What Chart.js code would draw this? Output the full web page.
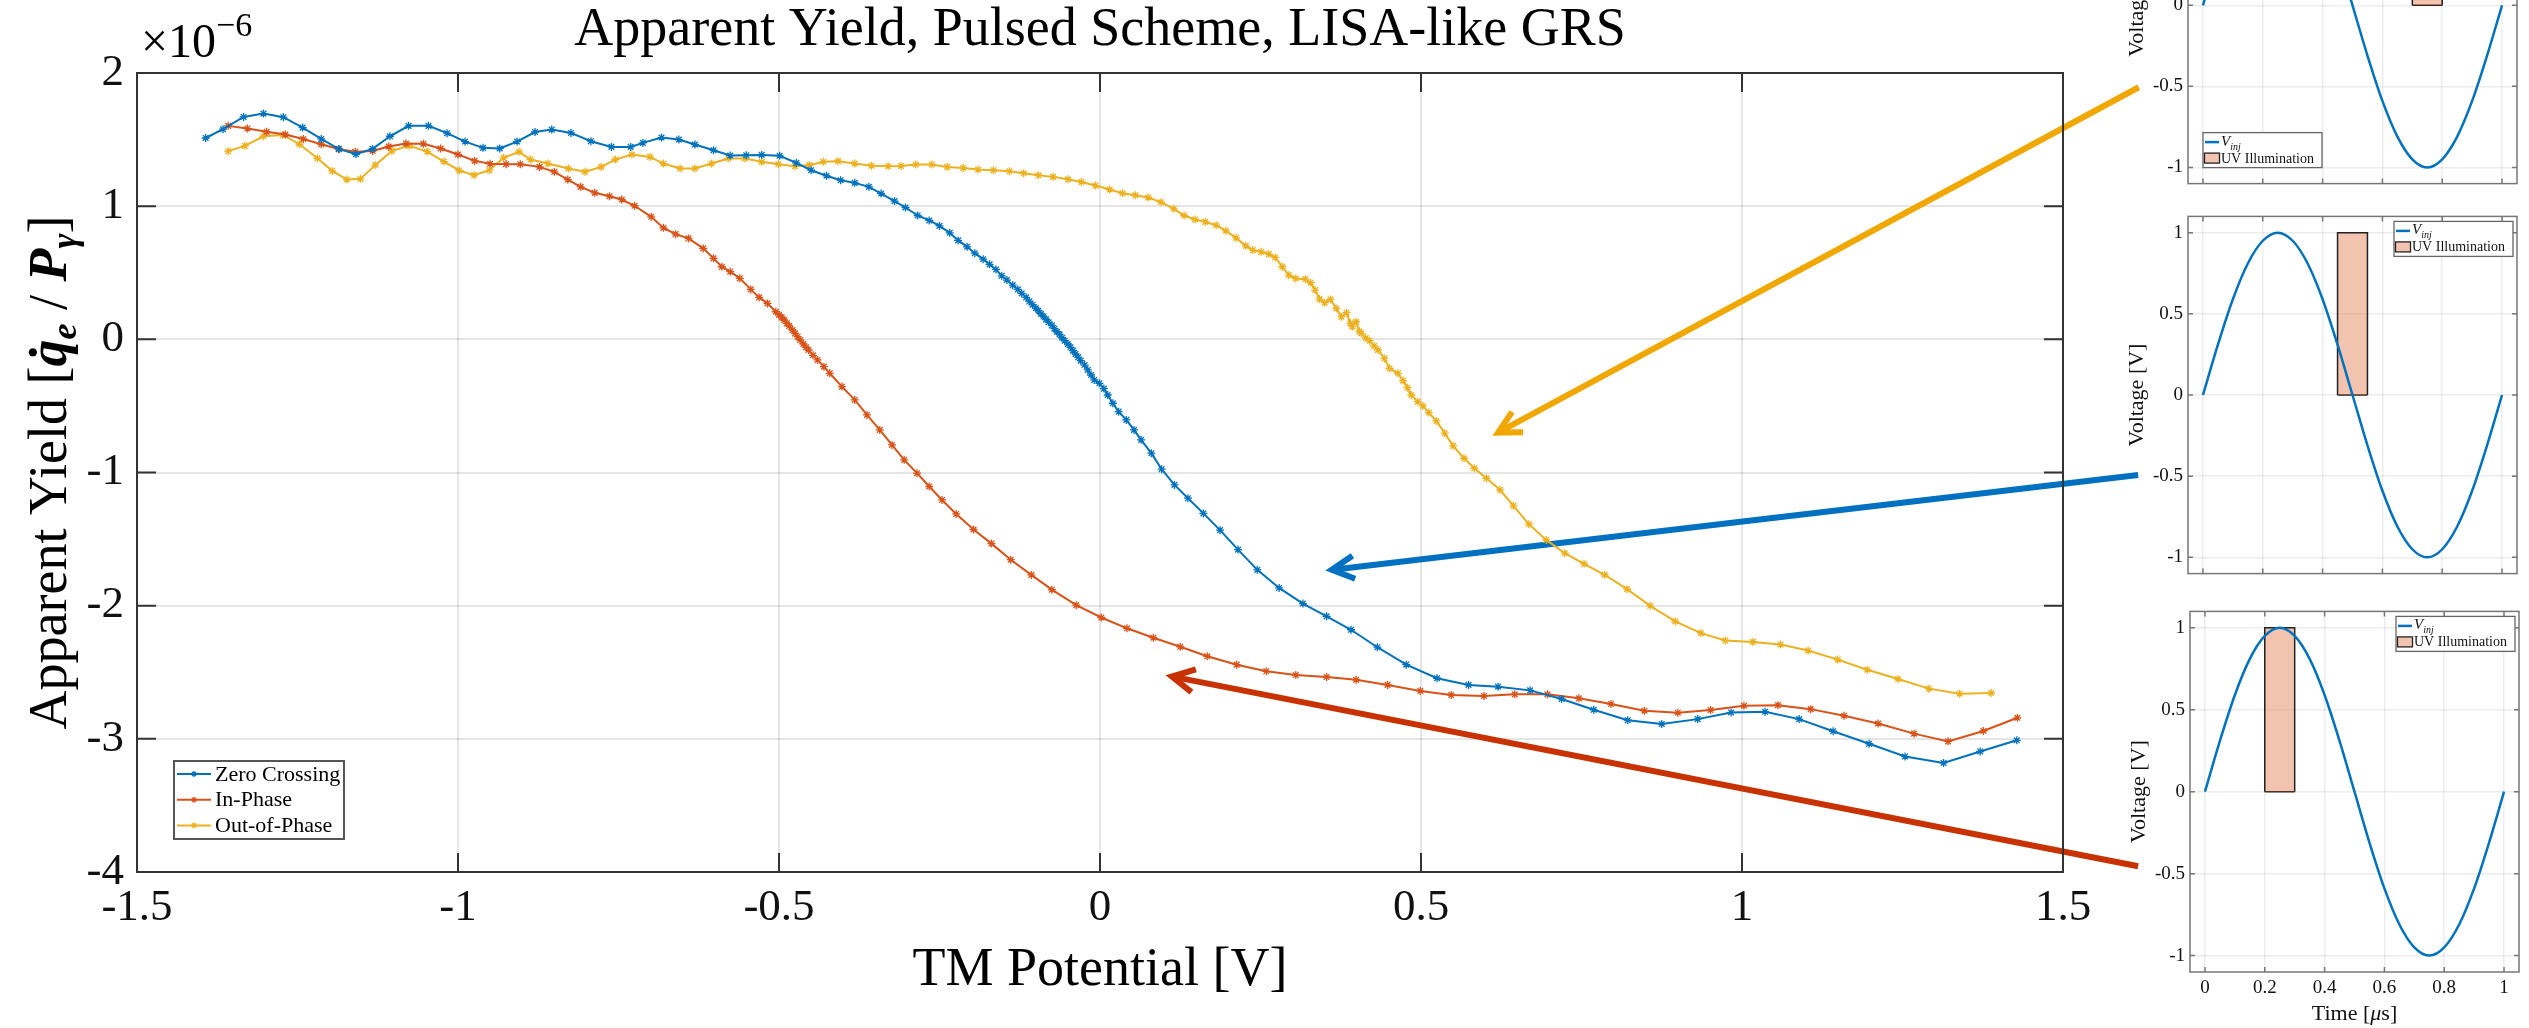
<!DOCTYPE html>
<html>
<head>
<meta charset="utf-8">
<title>Apparent Yield, Pulsed Scheme, LISA-like GRS</title>
<script src="https://cdn.jsdelivr.net/npm/chart.js@4.4.1/dist/chart.umd.min.js"></script>
<style>
  html, body { margin: 0; padding: 0; background: #fff; overflow: hidden; }
  body { width: 2529px; height: 1028px; position: relative; }
  canvas { position: absolute; }
  #main { left: 0; top: 0; }
  #inset1 { left: 2100px; top: -200px; }
  #inset2 { left: 2100px; top: 200px; }
  #inset3 { left: 2100px; top: 595px; }
</style>
</head>
<body>
<canvas id="main" width="2529" height="1028"></canvas>
<canvas id="inset1" width="429" height="400"></canvas>
<canvas id="inset2" width="429" height="390"></canvas>
<canvas id="inset3" width="429" height="433"></canvas>
<script>
// TM potential [V] vs apparent yield [x1e-6] for the three pulse timings
const zeroCrossingV = [
  -1.393, -1.366, -1.334, -1.303, -1.272, -1.242, -1.213, -1.186, -1.159, -1.133,
  -1.106, -1.077, -1.046, -1.017, -0.989, -0.961, -0.935, -0.908, -0.880, -0.854,
  -0.824, -0.793, -0.761, -0.731, -0.712, -0.683, -0.656, -0.631, -0.602, -0.576,
  -0.551, -0.527, -0.499, -0.473, -0.450, -0.426, -0.404, -0.382, -0.360, -0.341,
  -0.320, -0.303, -0.284, -0.266, -0.250, -0.234, -0.221, -0.207, -0.195, -0.182,
  -0.172, -0.162, -0.153, -0.145, -0.136, -0.128, -0.122, -0.115, -0.110, -0.105,
  -0.100, -0.096, -0.092, -0.088, -0.084, -0.080, -0.075, -0.071, -0.067, -0.063,
  -0.059, -0.055, -0.050, -0.046, -0.042, -0.038, -0.034, -0.030, -0.024, -0.019,
  -0.014, -0.009, -0.001, 0.006, 0.012, 0.020, 0.029, 0.041, 0.053, 0.064,
  0.080, 0.096, 0.116, 0.137, 0.161, 0.187, 0.215, 0.245, 0.279, 0.316,
  0.353, 0.391, 0.432, 0.477, 0.525, 0.574, 0.620, 0.670, 0.719, 0.769,
  0.822, 0.875, 0.931, 0.983, 1.036, 1.089, 1.142, 1.198, 1.254, 1.314,
  1.371, 1.428
];
const zeroCrossingYield = [
  1.512, 1.578, 1.670, 1.695, 1.668, 1.590, 1.505, 1.430, 1.390, 1.430,
  1.525, 1.603, 1.603, 1.548, 1.485, 1.438, 1.433, 1.485, 1.557, 1.575,
  1.550, 1.488, 1.445, 1.445, 1.475, 1.515, 1.500, 1.463, 1.420, 1.380,
  1.383, 1.385, 1.378, 1.325, 1.270, 1.228, 1.195, 1.175, 1.145, 1.095,
  1.038, 0.990, 0.930, 0.893, 0.852, 0.800, 0.743, 0.695, 0.647, 0.602,
  0.563, 0.525, 0.477, 0.445, 0.407, 0.375, 0.345, 0.315, 0.285, 0.260,
  0.235, 0.215, 0.192, 0.172, 0.150, 0.128, 0.105, 0.080, 0.057, 0.037,
  0.012, -0.010, -0.035, -0.060, -0.085, -0.110, -0.135, -0.160, -0.193, -0.230,
  -0.268, -0.305, -0.330, -0.370, -0.418, -0.480, -0.543, -0.605, -0.680, -0.755,
  -0.855, -0.975, -1.093, -1.193, -1.307, -1.433, -1.579, -1.731, -1.867, -1.984,
  -2.080, -2.181, -2.312, -2.443, -2.545, -2.595, -2.608, -2.636, -2.701, -2.782,
  -2.860, -2.888, -2.852, -2.802, -2.797, -2.852, -2.943, -3.037, -3.133, -3.181,
  -3.095, -3.011
];

const inPhaseV = [
  -1.358, -1.328, -1.298, -1.269, -1.241, -1.213, -1.185, -1.160, -1.133, -1.108,
  -1.081, -1.054, -1.027, -1.000, -0.974, -0.950, -0.925, -0.903, -0.873, -0.850,
  -0.829, -0.809, -0.787, -0.764, -0.745, -0.725, -0.699, -0.680, -0.661, -0.641,
  -0.618, -0.602, -0.589, -0.576, -0.561, -0.544, -0.531, -0.518, -0.505, -0.500,
  -0.496, -0.492, -0.488, -0.484, -0.479, -0.475, -0.471, -0.467, -0.462, -0.458,
  -0.454, -0.447, -0.440, -0.430, -0.421, -0.402, -0.382, -0.363, -0.343, -0.324,
  -0.305, -0.285, -0.266, -0.246, -0.224, -0.197, -0.169, -0.139, -0.107, -0.075,
  -0.037, 0.002, 0.042, 0.083, 0.125, 0.167, 0.213, 0.259, 0.305, 0.353,
  0.399, 0.448, 0.499, 0.547, 0.598, 0.646, 0.697, 0.746, 0.796, 0.848,
  0.900, 0.951, 1.003, 1.056, 1.107, 1.159, 1.212, 1.268, 1.321, 1.376,
  1.429
];
const inPhaseYield = [
  1.603, 1.583, 1.558, 1.538, 1.505, 1.465, 1.428, 1.408, 1.415, 1.448,
  1.470, 1.468, 1.433, 1.388, 1.340, 1.318, 1.315, 1.315, 1.295, 1.258,
  1.200, 1.145, 1.100, 1.075, 1.050, 1.003, 0.920, 0.837, 0.790, 0.758,
  0.683, 0.608, 0.545, 0.508, 0.458, 0.375, 0.315, 0.270, 0.207, 0.185,
  0.165, 0.145, 0.120, 0.100, 0.070, 0.045, 0.020, -0.005, -0.035, -0.060,
  -0.080, -0.120, -0.155, -0.205, -0.255, -0.355, -0.455, -0.568, -0.680, -0.793,
  -0.905, -1.005, -1.105, -1.206, -1.311, -1.428, -1.534, -1.655, -1.769, -1.880,
  -1.996, -2.089, -2.170, -2.241, -2.309, -2.380, -2.443, -2.493, -2.521, -2.536,
  -2.557, -2.595, -2.640, -2.671, -2.678, -2.666, -2.666, -2.696, -2.739, -2.789,
  -2.804, -2.784, -2.752, -2.747, -2.777, -2.827, -2.885, -2.961, -3.019, -2.941,
  -2.842
];

const outOfPhaseV = [
  -1.358, -1.332, -1.303, -1.273, -1.247, -1.219, -1.196, -1.173, -1.152, -1.129,
  -1.103, -1.076, -1.048, -1.022, -0.998, -0.975, -0.951, -0.929, -0.905, -0.887,
  -0.860, -0.828, -0.802, -0.777, -0.755, -0.729, -0.701, -0.680, -0.654, -0.631,
  -0.605, -0.579, -0.553, -0.527, -0.501, -0.475, -0.453, -0.431, -0.408, -0.382,
  -0.356, -0.330, -0.310, -0.287, -0.262, -0.238, -0.213, -0.190, -0.166, -0.141,
  -0.119, -0.096, -0.073, -0.050, -0.029, -0.007, 0.015, 0.035, 0.055, 0.075,
  0.095, 0.115, 0.131, 0.148, 0.164, 0.181, 0.196, 0.212, 0.227, 0.238,
  0.251, 0.263, 0.273, 0.284, 0.294, 0.305, 0.320, 0.328, 0.335, 0.342,
  0.350, 0.359, 0.368, 0.376, 0.384, 0.390, 0.393, 0.399, 0.404, 0.407,
  0.414, 0.420, 0.427, 0.433, 0.443, 0.451, 0.464, 0.472, 0.479, 0.485,
  0.495, 0.503, 0.512, 0.524, 0.537, 0.550, 0.567, 0.583, 0.602, 0.623,
  0.644, 0.668, 0.695, 0.724, 0.754, 0.786, 0.821, 0.857, 0.896, 0.936,
  0.974, 1.017, 1.060, 1.103, 1.149, 1.195, 1.243, 1.291, 1.339, 1.388
];
const outOfPhaseYield = [
  1.413, 1.453, 1.525, 1.535, 1.465, 1.360, 1.265, 1.200, 1.205, 1.308,
  1.415, 1.453, 1.410, 1.335, 1.268, 1.233, 1.270, 1.363, 1.408, 1.350,
  1.320, 1.283, 1.258, 1.295, 1.350, 1.388, 1.370, 1.320, 1.283, 1.283,
  1.320, 1.358, 1.358, 1.333, 1.315, 1.300, 1.308, 1.333, 1.338, 1.320,
  1.303, 1.300, 1.302, 1.313, 1.313, 1.295, 1.287, 1.275, 1.270, 1.262,
  1.247, 1.232, 1.220, 1.202, 1.182, 1.155, 1.125, 1.097, 1.082, 1.065,
  1.030, 0.980, 0.930, 0.900, 0.882, 0.857, 0.815, 0.762, 0.702, 0.670,
  0.657, 0.640, 0.615, 0.545, 0.482, 0.457, 0.452, 0.425, 0.370, 0.302,
  0.275, 0.300, 0.232, 0.170, 0.200, 0.120, 0.095, 0.132, 0.060, 0.045,
  0.010, -0.010, -0.050, -0.080, -0.143, -0.218, -0.255, -0.310, -0.363, -0.418,
  -0.468, -0.500, -0.550, -0.613, -0.705, -0.800, -0.893, -0.968, -1.043, -1.130,
  -1.250, -1.388, -1.506, -1.606, -1.686, -1.768, -1.876, -2.001, -2.118, -2.206,
  -2.261, -2.272, -2.292, -2.337, -2.405, -2.481, -2.551, -2.623, -2.661, -2.656
];

const potentialTicks = [-1.5, -1, -0.5, 0, 0.5, 1, 1.5];
const yieldTicks = [-4, -3, -2, -1, 0, 1, 2];

// one period of the injection voltage, sampled every 50 ns
const timeUs = [0, 0.05, 0.1, 0.15, 0.2, 0.25, 0.3, 0.35, 0.4, 0.45, 0.5,
                0.55, 0.6, 0.65, 0.7, 0.75, 0.8, 0.85, 0.9, 0.95, 1];
const vInj = [0, 0.31, 0.59, 0.81, 0.95, 1, 0.95, 0.81, 0.59, 0.31, 0,
              -0.31, -0.59, -0.81, -0.95, -1, -0.95, -0.81, -0.59, -0.31, 0];
const timeTicks = [0, 0.2, 0.4, 0.6, 0.8, 1];
const voltageTicks = [-1, -0.5, 0, 0.5, 1];

// UV pulse windows [start, end] in us: out-of-phase, zero crossing, in-phase
const uvOutOfPhase = [0.7, 0.8];
const uvZeroCrossing = [0.45, 0.55];
const uvInPhase = [0.2, 0.3];
const uvHeight = 1;

// pointer arrows, [tail V, tail yield, tip V, tip yield]
const arrowOutOfPhase = [1.618, 1.893, 0.620, -0.700];
const arrowZeroCrossing = [1.617, -1.018, 0.361, -1.731];
const arrowInPhase = [1.617, -3.957, 0.112, -2.532];

const BLUE = '#0072BD', ORANGE = '#D95319', GOLD = '#EDB120';
const UV_FILL = 'rgba(217,84,25,0.35)';
const SERIF = "'Liberation Serif', 'Times New Roman', serif";

Chart.defaults.font.family = SERIF;
Chart.defaults.color = '#111';

const toPoints = (xs, ys) => xs.map((x, i) => ({x: x, y: ys[i]}));
const fmt = v => String(Math.round(v * 100) / 100);

function richText(ctx, parts, x, y, align) {
  let w = 0;
  parts.forEach(p => { ctx.font = p[1]; w += ctx.measureText(p[0]).width; });
  let cx = align === 'center' ? x - w / 2 : x;
  ctx.textAlign = 'left';
  parts.forEach(p => {
    ctx.font = p[1];
    ctx.fillText(p[0], cx, y + (p[2] || 0));
    cx += ctx.measureText(p[0]).width;
  });
}

function drawArrow(ctx, x0, y0, x1, y1, color) {
  const ang = Math.atan2(y0 - y1, x0 - x1);
  const head = 25, spread = 0.48;
  ctx.save();
  ctx.strokeStyle = color;
  ctx.lineWidth = 6;
  ctx.lineJoin = 'miter';
  ctx.beginPath();
  ctx.moveTo(x0, y0);
  ctx.lineTo(x1 + 3 * Math.cos(ang), y1 + 3 * Math.sin(ang));
  ctx.stroke();
  ctx.beginPath();
  ctx.moveTo(x1 + head * Math.cos(ang + spread), y1 + head * Math.sin(ang + spread));
  ctx.lineTo(x1, y1);
  ctx.lineTo(x1 + head * Math.cos(ang - spread), y1 + head * Math.sin(ang - spread));
  ctx.stroke();
  ctx.restore();
}

// box around the axes plus inward tick marks on all four sides
const frame = {
  id: 'frame',
  afterDatasetsDraw(chart, args, o) {
    const {ctx, chartArea: a, scales: {x, y}} = chart;
    ctx.save();
    ctx.strokeStyle = o.color;
    ctx.lineWidth = o.width;
    ctx.beginPath();
    x.ticks.forEach(t => {
      const px = x.getPixelForValue(t.value);
      ctx.moveTo(px, a.bottom); ctx.lineTo(px, a.bottom - o.tick);
      ctx.moveTo(px, a.top); ctx.lineTo(px, a.top + o.tick);
    });
    y.ticks.forEach(t => {
      const py = y.getPixelForValue(t.value);
      ctx.moveTo(a.left, py); ctx.lineTo(a.left + o.tick, py);
      ctx.moveTo(a.right, py); ctx.lineTo(a.right - o.tick, py);
    });
    ctx.stroke();
    ctx.strokeRect(a.left, a.top, a.right - a.left, a.bottom - a.top);
    ctx.restore();
  }
};

const arrows = {
  id: 'arrows',
  beforeDatasetsDraw(chart) {
    const {ctx, scales: {x, y}} = chart;
    [[arrowOutOfPhase, '#F0A800'], [arrowZeroCrossing, '#0070C0'], [arrowInPhase, '#C83200']]
      .forEach(([a, c]) => drawArrow(ctx, x.getPixelForValue(a[0]), y.getPixelForValue(a[1]),
                                     x.getPixelForValue(a[2]), y.getPixelForValue(a[3]), c));
  }
};

const mainText = {
  id: 'mainText',
  afterDraw(chart) {
    const {ctx, chartArea: a} = chart;
    const cx = (a.left + a.right) / 2;
    ctx.save();
    ctx.fillStyle = '#000';
    ctx.textBaseline = 'alphabetic';
    richText(ctx, [['Apparent Yield, Pulsed Scheme, LISA-like GRS', '54px ' + SERIF]], cx, 45, 'center');
    richText(ctx, [['TM Potential [V]', '54px ' + SERIF]], cx, 985, 'center');
    richText(ctx, [['\u00d710', '48px ' + SERIF], ['\u22126', '34px ' + SERIF, -21]], a.left + 4, 57, 'left');

    ctx.save();
    ctx.translate(66, (a.top + a.bottom) / 2);
    ctx.rotate(-Math.PI / 2);
    richText(ctx, [
      ['Apparent Yield [', '54px ' + SERIF],
      ['q\u0307', 'italic bold 54px ' + SERIF],
      ['e', 'italic bold 36px ' + SERIF, 10],
      [' / ', '54px ' + SERIF],
      ['P', 'italic bold 54px ' + SERIF],
      ['\u03b3', 'italic bold 36px ' + SERIF, 10],
      [']', '54px ' + SERIF]
    ], 0, 0, 'center');
    ctx.restore();

    // legend in the lower-left corner
    const bx = a.left + 37, by = a.bottom - 111, bw = 170, bh = 78;
    ctx.fillStyle = '#fff';
    ctx.fillRect(bx, by, bw, bh);
    ctx.strokeStyle = '#555';
    ctx.lineWidth = 2;
    ctx.strokeRect(bx, by, bw, bh);
    chart.data.datasets.forEach((ds, i) => {
      const ry = by + 13 + i * 25.7;
      ctx.strokeStyle = ds.borderColor;
      ctx.fillStyle = ds.borderColor;
      ctx.lineWidth = 2;
      ctx.beginPath();
      ctx.moveTo(bx + 3, ry); ctx.lineTo(bx + 37, ry);
      ctx.stroke();
      ctx.lineWidth = 1.2;
      Chart.helpers.drawPoint(ctx, {pointStyle: 'star', radius: 3, rotation: 0, borderWidth: 1.2}, bx + 20, ry);
      ctx.fillStyle = '#000';
      ctx.font = '22px ' + SERIF;
      ctx.textAlign = 'left';
      ctx.textBaseline = 'middle';
      ctx.fillText(ds.label, bx + 41, ry + 1);
    });
    ctx.restore();
  }
};

function series(label, xs, ys, color) {
  return {
    label: label,
    data: toPoints(xs, ys),
    borderColor: color,
    backgroundColor: color,
    borderWidth: 2,
    pointStyle: 'star',
    pointRadius: 4,
    pointBorderWidth: 1.3,
    pointBorderColor: color,
    tension: 0,
    fill: false
  };
}

new Chart(document.getElementById('main'), {
  type: 'line',
  data: {
    datasets: [
      series('Zero Crossing', zeroCrossingV, zeroCrossingYield, BLUE),
      series('In-Phase', inPhaseV, inPhaseYield, ORANGE),
      series('Out-of-Phase', outOfPhaseV, outOfPhaseYield, GOLD)
    ]
  },
  options: {
    responsive: false,
    animation: false,
    devicePixelRatio: 1,
    layout: {padding: {left: 0, top: 73, right: 466, bottom: 0}},
    plugins: {
      legend: {display: false},
      tooltip: {enabled: false},
      frame: {color: '#333', width: 2, tick: 19}
    },
    scales: {
      x: {
        type: 'linear', min: -1.5, max: 1.5,
        afterBuildTicks: s => { s.ticks = potentialTicks.map(v => ({value: v})); },
        afterFit: s => { s.height = 156; },
        grid: {color: 'rgba(0,0,0,0.1)', lineWidth: 2, drawTicks: false},
        border: {display: false},
        ticks: {font: {size: 45}, padding: 9, maxRotation: 0, callback: fmt}
      },
      y: {
        type: 'linear', min: -4, max: 2,
        afterBuildTicks: s => { s.ticks = yieldTicks.map(v => ({value: v})); },
        afterFit: s => { s.width = 137; },
        grid: {color: 'rgba(0,0,0,0.1)', lineWidth: 2, drawTicks: false},
        border: {display: false},
        ticks: {font: {size: 45}, padding: 13, callback: fmt}
      }
    }
  },
  plugins: [arrows, frame, mainText]
});

// axis labels and legend of the waveform panels
const insetText = {
  id: 'insetText',
  afterDraw(chart, args, o) {
    const {ctx, chartArea: a} = chart;
    ctx.save();
    ctx.fillStyle = '#111';
    ctx.textBaseline = 'alphabetic';
    ctx.save();
    ctx.translate(a.left - 45, (a.top + a.bottom) / 2);
    ctx.rotate(-Math.PI / 2);
    richText(ctx, [['Voltage [V]', '22px ' + SERIF]], 0, 0, 'center');
    ctx.restore();
    if (o.showTime) {
      richText(ctx, [['Time [', '22px ' + SERIF], ['\u03bc', 'italic 22px ' + SERIF], ['s]', '22px ' + SERIF]],
               (a.left + a.right) / 2, a.bottom + 48, 'center');
    }

    const bw = 119, bh = 35;
    const bx = o.corner === 'tr' ? a.right - 4 - bw : a.left + 15;
    const by = o.corner === 'tr' ? a.top + 5 : a.bottom - 16 - bh;
    ctx.fillStyle = '#fff';
    ctx.fillRect(bx, by, bw, bh);
    ctx.strokeStyle = '#666';
    ctx.lineWidth = 1.3;
    ctx.strokeRect(bx, by, bw, bh);
    ctx.strokeStyle = BLUE;
    ctx.lineWidth = 2.5;
    ctx.beginPath();
    ctx.moveTo(bx + 2, by + 9.5); ctx.lineTo(bx + 16, by + 9.5);
    ctx.stroke();
    ctx.fillStyle = '#111';
    richText(ctx, [['V', 'italic 15px ' + SERIF], ['inj', 'italic 10px ' + SERIF, 4]], bx + 18, by + 13, 'left');
    ctx.fillStyle = UV_FILL;
    ctx.fillRect(bx + 1.5, by + 20.5, 15, 10);
    ctx.strokeStyle = '#222';
    ctx.lineWidth = 1.3;
    ctx.strokeRect(bx + 1.5, by + 20.5, 15, 10);
    ctx.fillStyle = '#111';
    richText(ctx, [['UV Illumination', '14px ' + SERIF]], bx + 18, by + 30, 'left');
    ctx.restore();
  }
};

function makeInset(id, win, box, corner, showTime) {
  const canvas = document.getElementById(id);
  const h = canvas.height;
  new Chart(canvas, {
    type: 'line',
    data: {
      datasets: [
        {
          label: 'V_inj',
          data: toPoints(timeUs, vInj),
          borderColor: BLUE,
          borderWidth: 2.5,
          pointRadius: 0,
          cubicInterpolationMode: 'monotone',
          fill: false
        },
        {
          // UV pulse: outline filled down to 0 V
          label: 'UV Illumination',
          data: toPoints([win[0], win[0], win[1], win[1]], [0, uvHeight, uvHeight, 0]),
          borderColor: '#222',
          borderWidth: 1.5,
          backgroundColor: UV_FILL,
          pointRadius: 0,
          tension: 0,
          fill: 'origin'
        },
        {
          label: 'UV base',
          data: toPoints([win[0], win[1]], [0, 0]),
          borderColor: '#222',
          borderWidth: 1.5,
          pointRadius: 0,
          fill: false
        }
      ]
    },
    options: {
      responsive: false,
      animation: false,
      devicePixelRatio: 1,
      layout: {padding: {left: 0, top: box.top, right: canvas.width - box.right, bottom: 0}},
      plugins: {
        legend: {display: false},
        tooltip: {enabled: false},
        frame: {color: '#777', width: 1.5, tick: 5},
        insetText: {corner: corner, showTime: showTime}
      },
      scales: {
        x: {
          type: 'linear', min: -0.05, max: 1.05,
          afterBuildTicks: s => { s.ticks = timeTicks.map(v => ({value: v})); },
          afterFit: s => { s.height = h - box.bottom; },
          grid: {color: 'rgba(0,0,0,0.07)', lineWidth: 1.5, drawTicks: false},
          border: {display: false},
          ticks: {font: {size: 19}, padding: 5, maxRotation: 0, callback: v => showTime ? fmt(v) : ''}
        },
        y: {
          type: 'linear', min: -1.1, max: 1.1,
          afterBuildTicks: s => { s.ticks = voltageTicks.map(v => ({value: v})); },
          afterFit: s => { s.width = box.left; },
          grid: {color: 'rgba(0,0,0,0.07)', lineWidth: 1.5, drawTicks: false},
          border: {display: false},
          ticks: {font: {size: 19}, padding: 5, callback: fmt}
        }
      }
    },
    plugins: [frame, insetText]
  });
}

makeInset('inset1', uvOutOfPhase, {left: 88, right: 417, top: 27, bottom: 393}, 'bl', false);
makeInset('inset2', uvZeroCrossing, {left: 88, right: 417, top: 16, bottom: 383}, 'tr', false);
makeInset('inset3', uvInPhase, {left: 90, right: 419, top: 10, bottom: 377}, 'tr', true);
</script>
</body>
</html>
